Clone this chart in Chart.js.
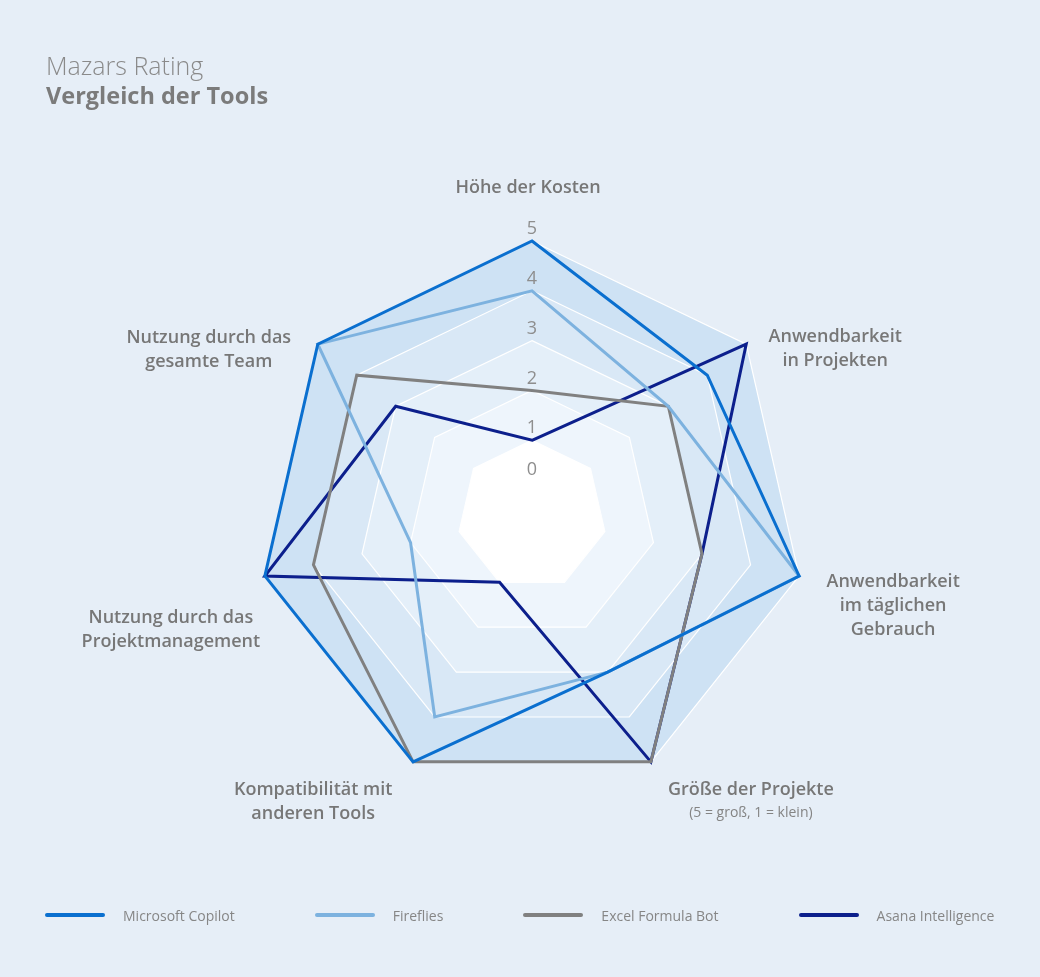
<!DOCTYPE html>
<html lang="de">
<head>
<meta charset="utf-8">
<title>Mazars Rating – Vergleich der Tools</title>
<script src="https://cdn.jsdelivr.net/npm/chart.js@4.4.1/dist/chart.umd.min.js"></script>
<style>
  html, body { margin: 0; padding: 0; background: #e6eef7; }
  body { width: 1040px; height: 977px; position: relative; overflow: hidden; font-family: 'Open Sans', sans-serif; }
  #wrap { position: absolute; left: 0; top: 0; width: 1040px; height: 977px; }
  .title { position: absolute; left: 46px; top: 50px; color: #8a8a8a; font-size: 25px; line-height: 30px; font-weight: 300; }
  .title b { display: block; font-size: 23.5px; font-weight: 700; color: #7b7b7b; }
  #legend { position: absolute; left: 45px; top: 903px; height: 24px; display: flex; align-items: center; gap: 80px; }
  .item { display: flex; align-items: center; font-size: 14px; color: #868686; white-space: nowrap; }
  .item i { display: inline-block; width: 60px; height: 3.5px; border-radius: 2px; margin-right: 18px; }
</style>
</head>
<body>
<div id="wrap"><canvas id="radar"></canvas></div>
<div class="title">Mazars Rating<b>Vergleich der Tools</b></div>
<div id="legend"></div>
<script>
// categories (axes), clockwise from the top
const categories = [
  ['Höhe der Kosten'],
  ['Anwendbarkeit', 'in Projekten'],
  ['Anwendbarkeit', 'im täglichen', 'Gebrauch'],
  ['Größe der Projekte'],
  ['Kompatibilität mit', 'anderen Tools'],
  ['Nutzung durch das', 'Projektmanagement'],
  ['Nutzung durch das', 'gesamte Team']
];
const categoryNotes = ['', '', '', '(5 = groß, 1 = klein)', '', '', ''];

// ratings per tool
const copilotValues  = [5, 4, 5, 3, 5, 5, 5];
const firefliesValues = [4, 3, 5, 3, 4, 2, 5];
const excelBotValues = [2, 3, 3, 5, 5, 4, 4];
const asanaValues    = [1, 5, 3, 5, 1, 5, 3];

const seriesNames  = ['Microsoft Copilot', 'Fireflies', 'Excel Formula Bot', 'Asana Intelligence'];
const seriesValues = [copilotValues, firefliesValues, excelBotValues, asanaValues];
const seriesColors = ['#0a6fcf', '#7db2df', '#808080', '#0c1f8c'];

const tickValues = [0, 1, 2, 3, 4, 5];
const tickLabels = ['0', '1', '2', '3', '4', '5'];

// background bands: polygon up to level, colour
const bandLevels = [1, 2, 3, 4, 5];
const bandColors = ['#ffffff', '#eef5fc', '#e4eff9', '#d9e8f6', '#cee2f4'];

// where the first line of each axis label sits, relative to the outer vertex
const labelOffsets = [[-4, -53], [89, -7], [94, 6], [100, 28], [-100, 28], [-94, 42], [-109, -6]];

const radarDecor = {
  id: 'radarDecor',
  beforeDatasetsDraw(chart) {
    const scale = chart.scales.r;
    const ctx = chart.ctx;
    const n = categories.length;
    const poly = (v) => {
      ctx.beginPath();
      for (let i = 0; i < n; i++) {
        const p = scale.getPointPositionForValue(i, v);
        if (i === 0) ctx.moveTo(p.x, p.y); else ctx.lineTo(p.x, p.y);
      }
      ctx.closePath();
    };
    ctx.save();
    for (let k = bandLevels.length - 1; k >= 0; k--) {
      poly(bandLevels[k]);
      ctx.fillStyle = bandColors[k];
      ctx.fill();
    }
    ctx.strokeStyle = '#ffffff';
    ctx.lineWidth = 1.2;
    bandLevels.forEach(v => { poly(v); ctx.stroke(); });

    ctx.font = '400 18px "Open Sans"';
    ctx.fillStyle = '#8e8e8e';
    ctx.textAlign = 'center';
    ctx.textBaseline = 'middle';
    tickValues.forEach((v, i) => {
      const p = scale.getPointPositionForValue(0, v);
      // the zero label sits a little higher, inside the white centre
      ctx.fillText(tickLabels[i], p.x, p.y - (v === 0 ? 20 : 12));
    });
    ctx.restore();
  },
  afterDatasetsDraw(chart) {
    const scale = chart.scales.r;
    const ctx = chart.ctx;
    ctx.save();
    ctx.textAlign = 'center';
    ctx.textBaseline = 'middle';
    categories.forEach((lines, i) => {
      const p = scale.getPointPositionForValue(i, scale.max);
      const x = p.x + labelOffsets[i][0];
      let y = p.y + labelOffsets[i][1];
      ctx.font = '600 18px "Open Sans"';
      ctx.fillStyle = '#777777';
      lines.forEach(t => { ctx.fillText(t, x, y); y += 24; });
      if (categoryNotes[i]) {
        ctx.font = '400 14px "Open Sans"';
        ctx.fillStyle = '#848484';
        ctx.fillText(categoryNotes[i], x, y - 1);
      }
    });
    ctx.restore();
  }
};

new Chart(document.getElementById('radar'), {
  type: 'radar',
  data: {
    labels: categories,
    datasets: seriesNames.map((name, k) => ({
      label: name,
      data: seriesValues[k],
      borderColor: seriesColors[k],
      backgroundColor: seriesColors[k],
      borderWidth: 3,
      borderJoinStyle: 'miter',
      fill: false,
      pointRadius: 0,
      pointHoverRadius: 0,
      tension: 0
    }))
  },
  options: {
    responsive: true,
    maintainAspectRatio: false,
    animation: false,
    events: [],
    layout: { padding: { left: 258, right: 234, top: 241, bottom: 188 } },
    plugins: { legend: { display: false }, tooltip: { enabled: false } },
    scales: {
      r: {
        min: -0.5,
        max: 5,
        ticks: { display: false, stepSize: 1 },
        grid: { display: false },
        angleLines: { display: false },
        pointLabels: { display: false }
      }
    }
  },
  plugins: [radarDecor]
});

const legend = document.getElementById('legend');
seriesNames.forEach((name, k) => {
  const item = document.createElement('div');
  item.className = 'item';
  const sw = document.createElement('i');
  sw.style.background = seriesColors[k];
  item.appendChild(sw);
  item.appendChild(document.createTextNode(name));
  legend.appendChild(item);
});
</script>
</body>
</html>
